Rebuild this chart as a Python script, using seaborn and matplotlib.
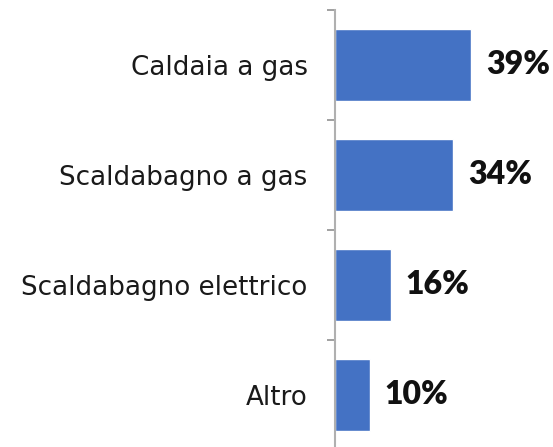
import matplotlib
matplotlib.use("Agg")
import matplotlib.pyplot as plt
import seaborn as sns
import pandas as pd
import numpy as np

categories = ["Caldaia a gas", "Scaldabagno a gas", "Scaldabagno elettrico", "Altro"]
values = [39, 34, 16, 10]
value_labels = ["39%", "34%", "16%", "10%"]

sns.set_theme(style="white")
plt.rcParams['font.family'] = ['Lato', 'DejaVu Sans']

df = pd.DataFrame({"cat": categories, "val": values})

W, H = 553, 447
fig = plt.figure(figsize=(W / 100, H / 100), dpi=100)
ax_left = 334.7
ax_top = 10
ax_bottom = 450
ax = fig.add_axes([ax_left / W, (H - ax_bottom) / H, (W - ax_left) / W, (ax_bottom - ax_top) / H])

sns.barplot(data=df, x="val", y="cat", orient="h", color="#4472C4", width=0.655,
            saturation=1, ax=ax)

ax.set_xlim(0, (W - ax_left) / 3.49)
ax.set_ylim(3.5, -0.5)
ax.set_xlabel("")
ax.set_ylabel("")
ax.set_xticks([])

for s in ["top", "right", "bottom"]:
    ax.spines[s].set_visible(False)
ax.spines["left"].set_color("#b0b0b0")
ax.spines["left"].set_linewidth(1.5)

ax.set_yticks(range(len(categories)))
ax.set_yticklabels(categories, fontsize=18.8, color="#1a1a1a", family=["DejaVu Sans"])
ax.tick_params(axis="y", which="major", left=False, length=0, pad=19.5)
ax.set_yticks(np.arange(-0.5, len(categories), 1.0), minor=True)
ax.tick_params(axis="y", which="minor", left=True, length=6, width=1.2, color="#909090", direction="out")

ax.bar_label(ax.containers[0], labels=value_labels, padding=11,
             fontsize=23, fontweight="heavy", color="#111111")

fig.savefig("out.png", dpi=100)
